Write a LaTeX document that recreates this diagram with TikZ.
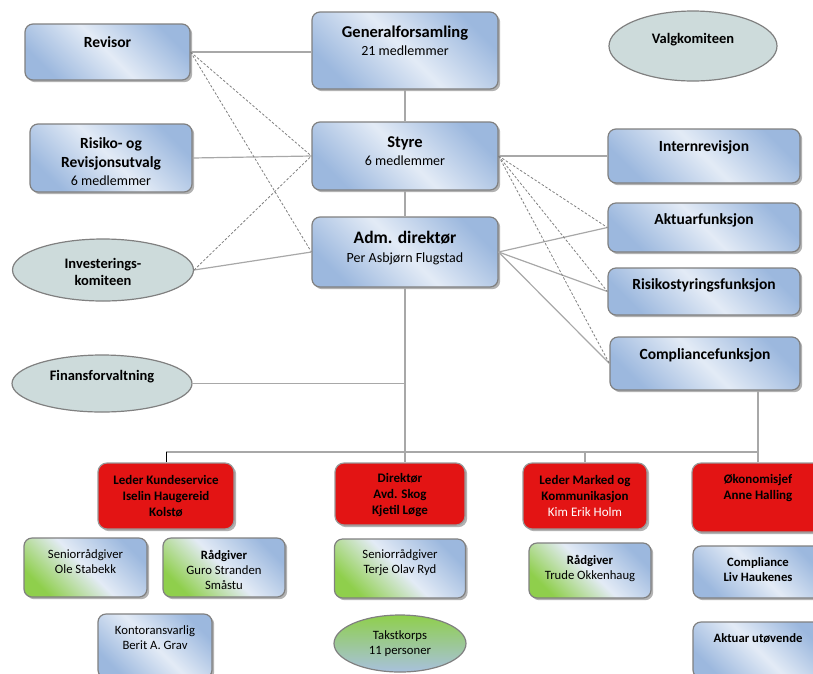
\documentclass[tikz,border=0pt]{standalone}
\usepackage{fontspec}
\setmainfont{Carlito}
\usetikzlibrary{shadows,shapes.geometric}
\definecolor{blight}{HTML}{E3EBF6}
\definecolor{bdark}{HTML}{9CB8DE}
\definecolor{gcol}{HTML}{8FCF4C}
\definecolor{redfill}{HTML}{E31414}
\definecolor{ellfill}{HTML}{CDDBDB}
\definecolor{edge}{HTML}{808080}
\definecolor{linec}{HTML}{A8A8A8}
\definecolor{subc}{HTML}{262626}
\newcommand\fttl{\fontsize{15.5}{18.5}\selectfont\bfseries}
\newcommand\fbig{\fontsize{16.5}{18.5}\selectfont\bfseries}
\newcommand\fadm{\fontsize{17.5}{19}\selectfont\bfseries}
\newcommand\fsub{\fontsize{14}{18.5}\selectfont\mdseries\color{subc}}
\newcommand\fred{\fontsize{13}{15.8}\selectfont\bfseries\color{white}}
\newcommand\fredr{\fontsize{13}{15.8}\selectfont\mdseries\color{white}}
\newcommand\flow{\fontsize{12.7}{15}\selectfont\mdseries\color{subc}}
\newcommand\flowb{\fontsize{12.7}{15}\selectfont\bfseries\color{black}}
\tikzset{
  x=1pt, y=-1pt,
  shadowed/.style={drop shadow={shadow xshift=2.2pt, shadow yshift=-2.2pt, fill=black, opacity=0.3}},
  bluebox/.style={shadowed, draw=edge, line width=1.2pt, rounded corners=8pt, inner sep=0pt,
    top color=bdark, bottom color=bdark, middle color=blight, shading angle=-45},
  greenbox/.style={shadowed, draw=edge, line width=1.2pt, rounded corners=8pt, inner sep=0pt,
    top color=bdark, bottom color=gcol, middle color=blight, shading angle=-45},
  redbox/.style={shadowed, draw=edge!80, line width=1.2pt, rounded corners=9pt, inner sep=0pt, fill=redfill},
  ell/.style={ellipse, draw=edge, line width=1.2pt, fill=ellfill, inner sep=0pt},
  gell/.style={ellipse, draw=edge, line width=1.2pt, inner sep=0pt, top color=gcol, bottom color=bdark!75!ellfill},
  tt/.style={align=center, inner sep=0pt, text=black},
  conn/.style={draw=linec, line width=1.2pt},
  dashconn/.style={draw=black!50, line width=0.8pt, dash pattern=on 2.5pt off 1.8pt},
}
\begin{document}
\begin{tikzpicture}
\useasboundingbox (0,0) rectangle (813,673);
\clip (0,0) rectangle (813,673);

\coordinate (bus) at (0,452);

% ---------- upper boxes ----------
\node[bluebox, minimum width=165pt, minimum height=56pt] (revisor) at (107.5,52) {};
\node[tt, font=\fttl] (revisor-t) at (107.5,42) {Revisor};

\node[bluebox, minimum width=186pt, minimum height=77pt] (genf) at (405,50.5) {};
\node[tt, font=\fsub] (genf-t) at (405,41) {{\fbig Generalforsamling}\\21 medlemmer};

\node[ell, minimum width=168pt, minimum height=70pt] (valg) at (693,46) {};
\node[tt, font=\fttl\fontsize{14.5}{17}\selectfont] (valg-t) at (693,40) {Valgkomiteen};

\node[bluebox, minimum width=162pt, minimum height=68pt] (risiko) at (111,158) {};
\node[tt, font=\fsub] (risiko-t) at (111,162) {{\fttl Risiko- og}\\{\fttl Revisjonsutvalg}\\6 medlemmer};

\node[bluebox, minimum width=186pt, minimum height=68pt] (styre) at (405,156) {};
\node[tt, font=\fsub] (styre-t) at (405,151) {{\fbig Styre}\\6 medlemmer};

\node[bluebox, minimum width=192pt, minimum height=54pt] (intern) at (704,156) {};
\node[tt, font=\fttl] (intern-t) at (704,147) {Internrevisjon};

\node[bluebox, minimum width=192pt, minimum height=49pt] (aktuar) at (704,227.5) {};
\node[tt, font=\fttl] (aktuar-t) at (704,220) {Aktuarfunksjon};

\node[bluebox, minimum width=186pt, minimum height=70pt] (adm) at (405,252) {};
\node[tt, font=\fsub] (adm-t) at (405,248) {{\fadm Adm. direktør}\\Per Asbjørn Flugstad};

\node[ell, minimum width=181pt, minimum height=62pt] (invest) at (103,270) {};
\node[tt, font=\fontsize{14.5}{17.5}\selectfont\bfseries] (invest-t) at (103,272) {Investerings-\\komiteen};

\node[bluebox, minimum width=192pt, minimum height=47pt] (risk) at (704,291.5) {};
\node[tt, font=\fttl] (risk-t) at (704,285) {Risikostyringsfunksjon};

\node[bluebox, minimum width=190pt, minimum height=53pt] (comp) at (705,363.5) {};
\node[tt, font=\fttl] (comp-t) at (705,355) {Compliancefunksjon};

\node[ell, minimum width=180pt, minimum height=57pt] (finans) at (102,383.5) {};
\node[tt, font=\fttl\fontsize{14.5}{17}\selectfont] (finans-t) at (102,377) {Finansforvaltning};

% ---------- red leaders ----------
\node[redbox, minimum width=136pt, minimum height=66pt] (kunde) at (166,496) {};
\node[tt, font=\fred] (kunde-t) at (166,496) {Leder Kundeservice\\Iselin Haugereid\\Kolstø};

\node[redbox, minimum width=130pt, minimum height=62pt] (skog) at (400,494) {};
\node[tt, font=\fred] (skog-t) at (400,495) {Direktør\\Avd. Skog\\Kjetil Løge};

\node[redbox, minimum width=124pt, minimum height=66pt] (marked) at (585,496) {};
\node[tt, font=\fred] (marked-t) at (585,496) {Leder Marked og\\Kommunikasjon\\{\fredr Kim Erik Holm}};

\node[redbox, minimum width=132pt, minimum height=69pt] (okonomi) at (758,497.5) {};
\node[tt, font=\fred] (okonomi-t) at (758,488) {Økonomisjef\\Anne Halling};

% ---------- staff ----------
\node[greenbox, minimum width=123pt, minimum height=59pt] (ole) at (85.5,567.5) {};
\node[tt, font=\flow] (ole-t) at (85.5,562) {Seniorrådgiver\\Ole Stabekk};

\node[greenbox, minimum width=122pt, minimum height=59pt] (guro) at (224,567.5) {};
\node[tt, font=\flow] (guro-t) at (224,569.5) {{\flowb Rådgiver}\\Guro Stranden\\Småstu};

\node[greenbox, minimum width=131pt, minimum height=59pt] (terje) at (400,568.5) {};
\node[tt, font=\flow] (terje-t) at (400,563) {Seniorrådgiver\\Terje Olav Ryd};

\node[greenbox, minimum width=122pt, minimum height=55pt] (trude) at (590,570.5) {};
\node[tt, font=\flow] (trude-t) at (590,568) {{\flowb Rådgiver}\\Trude Okkenhaug};

\node[bluebox, minimum width=130pt, minimum height=52pt] (liv) at (758,572) {};
\node[tt, font=\flowb] (liv-t) at (758,570) {Compliance\\Liv Haukenes};

\node[bluebox, minimum width=114pt, minimum height=64pt] (berit) at (155,646) {};
\node[tt, font=\flow] (berit-t) at (155,638) {{\color{black}Kontoransvarlig}\\Berit A. Grav};

\node[gell, minimum width=132pt, minimum height=57pt] (takst) at (400,643.5) {};
\node[tt, font=\flow] (takst-t) at (400,644) {Takstkorps\\11 personer};

\node[bluebox, minimum width=130pt, minimum height=56pt] (aktut) at (758,650) {};
\node[tt, font=\flowb] (aktut-t) at (758,638) {Aktuar utøvende};

% ---------- connectors ----------
\draw[conn] (revisor.east) -- (genf.west |- revisor.east);
\draw[conn] (risiko.east) -- (styre.west);
\draw[conn] (invest.east) -- (adm.west);
\draw[conn] (genf.south) -- (styre.north);
\draw[conn] (styre.south) -- (adm.north);
\draw[conn] (styre.east) -- (intern.west);
\draw[conn] (adm.east) -- (aktuar.west);
\draw[conn] (adm.east) -- (risk.west);
\draw[conn] (adm.east) -- (comp.west);
\draw[dashconn] (revisor.east) -- (styre.west);
\draw[dashconn] (revisor.east) -- (adm.west);
\draw[dashconn] (invest.east) -- (styre.west);
\draw[dashconn] (styre.east) -- (aktuar.west);
\draw[dashconn] (styre.east) -- (risk.west);
\draw[dashconn] (styre.east) -- (comp.west);
\draw[conn] (adm.south) -- (adm.south |- skog.north);
\draw[conn] (finans.east) -- (finans.east -| adm.south);
\draw[conn] (bus -| kunde.north) -- (bus -| okonomi.north);
\draw[black, line width=1pt] (kunde.north) -- (kunde.north |- bus);
\draw[conn] (marked.north) -- (marked.north |- bus);
\draw[conn] (okonomi.north) -- (okonomi.north |- comp.south);
\end{tikzpicture}
\end{document}
